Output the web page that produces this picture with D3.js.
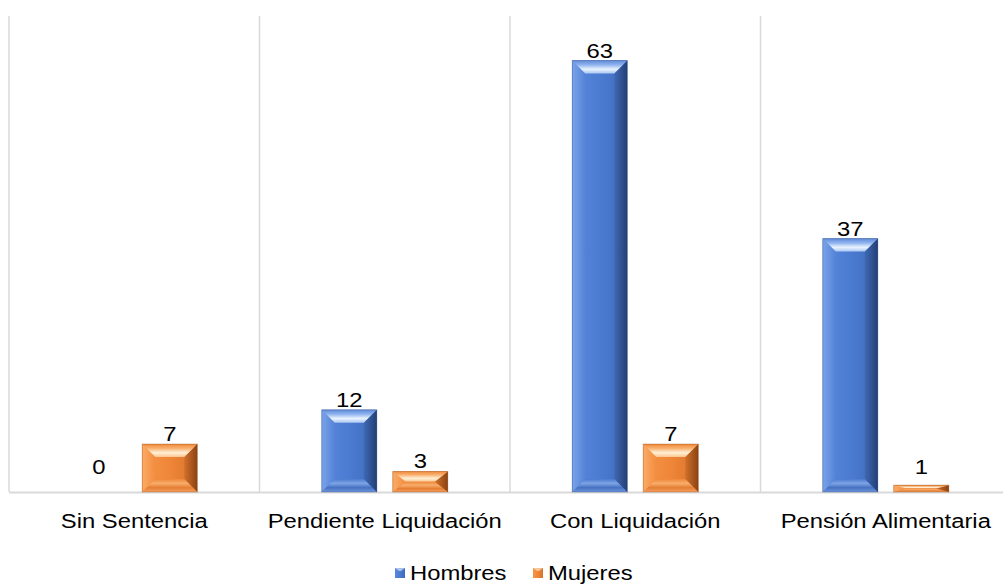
<!DOCTYPE html>
<html>
<head>
<meta charset="utf-8">
<script src="https://cdn.jsdelivr.net/npm/d3@7"></script>
<style>
  html, body { margin: 0; padding: 0; background: #fff; }
  svg { display: block; }
  text { font-family: "Liberation Sans", Arial, sans-serif; fill: #000; }
</style>
</head>
<body>
<svg id="chart" width="1003" height="586"></svg>
<script>
const categories = ["Sin Sentencia", "Pendiente Liquidación", "Con Liquidación", "Pensión Alimentaria"];
const seriesNames = ["Hombres", "Mujeres"];
const hombres = [0, 12, 63, 37];
const mujeres = [7, 3, 7, 1];
const seriesValues = [hombres, mujeres];

(function () {
const W = 1003, H = 586;
const pLeft = 9, pRight = 1011, pTop = 16, pBottom = 492;
const svg = d3.select("#chart");
const defs = svg.append("defs");

const palettes = {
  Hombres: { body: ["#5a89dc", "#4b7bd2", "#3e6ab9"], topG: ["#5f8bd9", "#8fb3ee", "#e9f3ff", "#a9c6f2"],
             leftC: ["#7aa3ea", "#5483d6"], rightC: ["#3f69b6", "#243f73"], botG: ["#4a79cf", "#7ea4e4", "#4671c2", "#6f96da"] },
  Mujeres: { body: ["#f69547", "#ef8638", "#d8722b"], topG: ["#f0883a", "#f9b271", "#fff0d6", "#fbc68e"],
             leftC: ["#fbab66", "#f28d3f"], rightC: ["#d2702b", "#8a4313"], botG: ["#ee8538", "#f8ae6c", "#e57e33", "#f4a060"] }
};

function linGrad(id, x1, y1, x2, y2, stops) {
  const g = defs.append("linearGradient").attr("id", id)
    .attr("x1", x1).attr("y1", y1).attr("x2", x2).attr("y2", y2);
  stops.forEach((c, i) => g.append("stop").attr("offset", i / (stops.length - 1)).attr("stop-color", c));
}
seriesNames.forEach(s => {
  const p = palettes[s];
  linGrad(s + "-body", 0, 0, 1, 0, p.body);
  linGrad(s + "-top", 0, 0, 0, 1, p.topG);
  linGrad(s + "-left", 0, 0, 1, 0, p.leftC);
  linGrad(s + "-right", 0, 0, 1, 0, p.rightC);
  linGrad(s + "-bot", 0, 0, 0, 1, p.botG);
});

const x0 = d3.scaleBand().domain(categories).range([pLeft, pRight]).padding(0);
const groupW = 126;
const x1 = d3.scaleBand().domain(seriesNames)
  .range([(x0.bandwidth() - groupW) / 2, (x0.bandwidth() + groupW) / 2])
  .paddingInner(0.225).paddingOuter(0);
const y = d3.scaleLinear().domain([0, 69.5]).range([pBottom, pTop]);

// gridlines
const grid = svg.append("g");
categories.forEach(c => {
  grid.append("line").attr("x1", x0(c)).attr("x2", x0(c)).attr("y1", pTop).attr("y2", pBottom)
    .attr("stroke", "#d9d9d9").attr("stroke-width", 1.5);
});
grid.append("line").attr("x1", pRight).attr("x2", pRight).attr("y1", pTop).attr("y2", pBottom)
  .attr("stroke", "#d9d9d9").attr("stroke-width", 1.5);
grid.append("line").attr("x1", pLeft).attr("x2", W).attr("y1", pBottom + 0.5).attr("y2", pBottom + 0.5)
  .attr("stroke", "#d9d9d9").attr("stroke-width", 2);

const SX = 1.19;
function stretchText(g, x, yy, str, size, anchor) {
  return g.append("text")
    .attr("transform", `translate(${x},${yy}) scale(${SX},1)`)
    .attr("text-anchor", anchor || "middle")
    .attr("font-size", size)
    .text(str);
}

// bars
const barsG = svg.append("g");
categories.forEach((c, ci) => {
  seriesNames.forEach((s, si) => {
    const v = seriesValues[si][ci];
    const bx0 = x0(c) + x1(s), bw = x1.bandwidth();
    const yt = y(v), yb = y(0), h = yb - yt;
    if (h > 0) {
      const g = barsG.append("g");
      const bv = Math.min(13, h / 2), bh = Math.min(13, bw / 2);
      const xa = bx0, xb = bx0 + bw;
      g.append("rect").attr("x", xa).attr("y", yt).attr("width", bw).attr("height", h)
        .attr("fill", `url(#${s}-body)`);
      g.append("polygon").attr("points", [[xa, yt], [xa + bh, yt + bv], [xa + bh, yb - bv], [xa, yb]].join(" "))
        .attr("fill", `url(#${s}-left)`);
      g.append("polygon").attr("points", [[xb, yt], [xb - bh, yt + bv], [xb - bh, yb - bv], [xb, yb]].join(" "))
        .attr("fill", `url(#${s}-right)`);
      g.append("polygon").attr("points", [[xa, yt], [xb, yt], [xb - bh, yt + bv], [xa + bh, yt + bv]].join(" "))
        .attr("fill", `url(#${s}-top)`);
      g.append("polygon").attr("points", [[xa + bh, yb - bv], [xb - bh, yb - bv], [xb, yb], [xa, yb]].join(" "))
        .attr("fill", `url(#${s}-bot)`);
      g.append("rect").attr("x", xa).attr("y", yt).attr("width", bw).attr("height", h)
        .attr("fill", "none").attr("stroke", palettes[s].rightC[1]).attr("stroke-opacity", 0.35).attr("stroke-width", 1);
    }
    const ly = Math.min(yt - 3, 474);
    stretchText(svg, bx0 + bw / 2, ly, String(v), 20);
  });
});

// category labels
categories.forEach(c => {
  stretchText(svg, x0(c) + x0.bandwidth() / 2, 528, c, 20);
});

// legend
const legend = svg.append("g");
const legendItems = [{ s: "Hombres", x: 395, tx: 410 }, { s: "Mujeres", x: 533, tx: 548 }];
legendItems.forEach(it => {
  legend.append("rect").attr("x", it.x).attr("y", 568).attr("width", 10).attr("height", 10)
    .attr("fill", `url(#${it.s}-body)`);
  legend.append("polygon").attr("points", [[it.x, 568], [it.x + 10, 568], [it.x + 6, 571], [it.x + 4, 571]].join(" "))
    .attr("fill", palettes[it.s].topG[2]).attr("opacity", 0.6);
  stretchText(legend, it.tx, 580, it.s, 20, "start");
});
})();
</script>
</body>
</html>
